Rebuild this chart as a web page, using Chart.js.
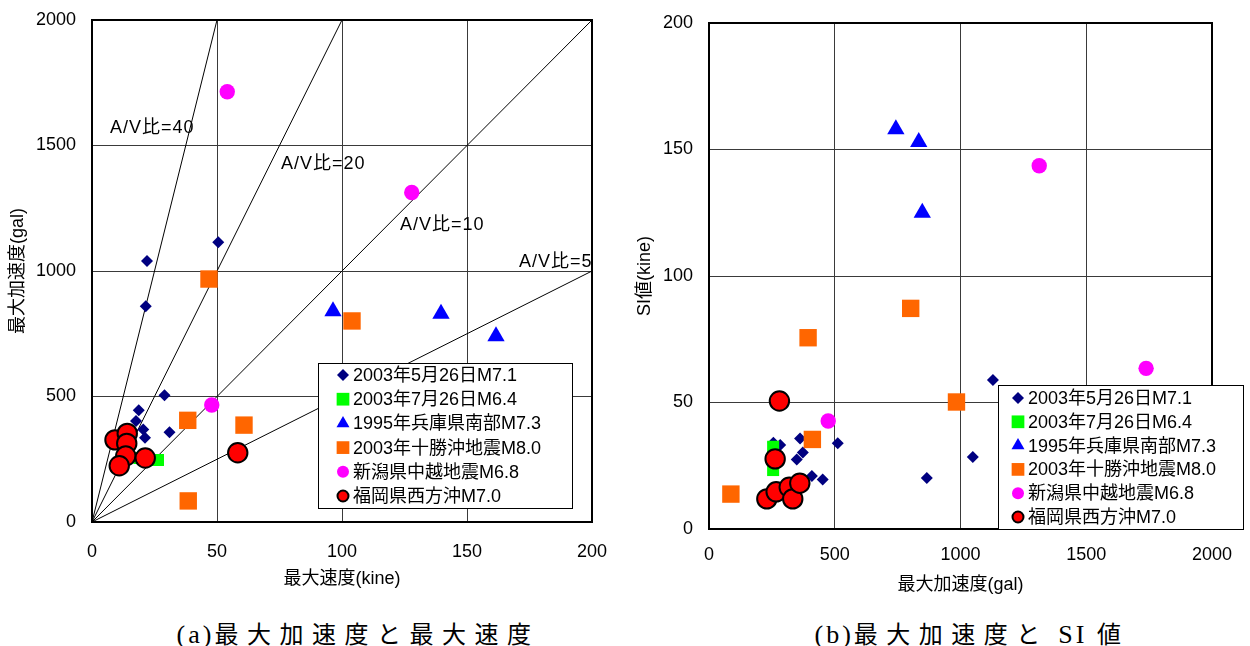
<!DOCTYPE html>
<html>
<head>
<meta charset="utf-8">
<script src="https://cdn.jsdelivr.net/npm/chart.js@4.4.1/dist/chart.umd.min.js"></script>
<style>
    body { margin: 0; background: #fff; width: 1250px; height: 646px; position: relative; overflow: hidden; }
    canvas { position: absolute; top: 0; }
    #chartA { left: 0; }
    #chartB { left: 625px; }
    .cap { position: absolute; top: 615px; font: 24px "Noto Sans CJK JP", sans-serif; letter-spacing: 8.5px;
           white-space: nowrap; transform: translateX(-50%); color: #000; }
    .cap .s { font-family: "Liberation Serif", "DejaVu Serif", serif; font-size: 26px; letter-spacing: 3px; }
</style>
</head>
<body>
<canvas id="chartA" width="625" height="605"></canvas>
<canvas id="chartB" width="625" height="605"></canvas>
<div class="cap" style="left:358px"><span class="s">(a)</span>最大加速度と最大速度</div>
<div class="cap" style="left:972px"><span class="s">(b)</span>最大加速度と<span class="s"> SI </span>値</div>

<script>
const seriesNames = ["2003年5月26日M7.1", "2003年7月26日M6.4", "1995年兵庫県南部M7.3",
                     "2003年十勝沖地震M8.0", "新潟県中越地震M6.8", "福岡県西方沖M7.0"];

// (a) 最大速度(kine) vs 最大加速度(gal)
const m71Pgv = [22, 21.5, 50.5, 29, 18.7, 17.6, 20.5, 21.2, 31];
const m71Pga = [1040, 860, 1115, 505, 445, 402, 369, 336, 358];
const m64Pgv = [26.4, 19];
const m64Pga = [247, 255];
const hyogoPgv = [96.4, 139.6, 161.6];
const hyogoPga = [840, 830, 740];
const tokachiPgv = [46.8, 104, 38.3, 60.8, 38.5];
const tokachiPga = [968, 801, 405, 386, 84];
const chuetsuPgv = [54.1, 127.9, 47.9];
const chuetsuPga = [1714, 1313, 466];
const fukuokaPgv = [9.2, 14.1, 13.9, 13.5, 10.9, 21.3, 58.3];
const fukuokaPga = [327, 353, 313, 263, 224, 255, 276];

// A/V比 reference lines
const avRatios = [40, 20, 10, 5];
const avLabels = ["A/V比=40", "A/V比=20", "A/V比=10", "A/V比=5"];

// (b) 最大加速度(gal) vs SI値(kine)
const m71PgaB = [1129, 1049, 866, 512, 452, 409, 373, 349, 362, 283, 256];
const m71Si = [58.9, 28.5, 20.2, 33.9, 19.6, 20.9, 30.2, 27.5, 35.8, 33.2, 34.1];
const m64PgaB = [255, 255];
const m64Si = [32.5, 23.3];
const hyogoPgaB = [743, 834, 848];
const hyogoSi = [158, 153, 125];
const tokachiPgaB = [87, 394, 411, 802, 984];
const tokachiSi = [13.8, 75.6, 35.4, 87.2, 50.2];
const chuetsuPgaB = [1738, 1313, 474];
const chuetsuSi = [63.5, 143.6, 42.7];
const fukuokaPgaB = [280, 263, 230, 267, 319, 333, 361];
const fukuokaSi = [50.6, 27.7, 11.9, 14.7, 16.5, 11.9, 18.1];

const looks = [
    { style: "rectRot", color: "#000080", r: 6, lr: 6, order: 5 },
    { style: "rect", color: "#00ff00", r: 8.5, lr: 9, order: 4 },
    { style: "triangle", color: "#0000ff", r: 10, lr: 7.5, order: 3 },
    { style: "rect", color: "#ff6600", r: 12.3, lr: 9, order: 2 },
    { style: "circle", color: "#ff00ff", r: 7.7, lr: 6, order: 1 },
    { style: "circle", color: "#ff0000", r: 9.7, lr: 5.5, order: 0, border: 2 }
];

const fontFamily = '"Liberation Sans", "Noto Sans CJK JP", sans-serif';
Chart.defaults.font.family = fontFamily;
Chart.defaults.color = "#000";

function pts(xs, ys) {
    return xs.map((x, i) => ({ x: x, y: ys[i] }));
}

function makeSeries(pairs) {
    return pairs.map((p, i) => {
        const lk = looks[i];
        return {
            label: seriesNames[i],
            data: pts(p[0], p[1]),
            pointStyle: lk.style,
            pointRadius: lk.r,
            pointHoverRadius: lk.r,
            backgroundColor: lk.color,
            borderColor: "#000",
            borderWidth: lk.border || 0,
            order: lk.order
        };
    });
}

function drawMarker(ctx, lk, x, y, r) {
    ctx.beginPath();
    if (lk.style === "rectRot") {
        ctx.moveTo(x - r, y); ctx.lineTo(x, y - r); ctx.lineTo(x + r, y); ctx.lineTo(x, y + r);
        ctx.closePath();
    } else if (lk.style === "rect") {
        const s = r * Math.SQRT1_2;
        ctx.rect(x - s, y - s, 2 * s, 2 * s);
    } else if (lk.style === "triangle") {
        const h = r * Math.sin(Math.PI / 3);
        ctx.moveTo(x, y - r); ctx.lineTo(x + h, y + r / 2); ctx.lineTo(x - h, y + r / 2);
        ctx.closePath();
    } else {
        ctx.arc(x, y, r, 0, Math.PI * 2);
    }
    ctx.fillStyle = lk.color;
    ctx.fill();
    if (lk.border) {
        ctx.lineWidth = lk.border;
        ctx.strokeStyle = "#000";
        ctx.stroke();
    }
}

// frame, legend box and A/V labels
const framePlugin = {
    id: "frame",
    afterDatasetsDraw(chart, args, opts) {
        const ctx = chart.ctx;
        const a = chart.chartArea;
        ctx.save();

        // ratio labels
        if (opts.labels) {
            ctx.font = "18px " + fontFamily;
            ctx.fillStyle = "#000";
            ctx.textAlign = "left";
            ctx.textBaseline = "middle";
            if ("letterSpacing" in ctx) ctx.letterSpacing = "1px";
            opts.labels.forEach(l => {
                ctx.fillText(l.t, chart.scales.x.getPixelForValue(l.x), chart.scales.y.getPixelForValue(l.y));
            });
            if ("letterSpacing" in ctx) ctx.letterSpacing = "0px";
        }

        // plot border
        ctx.lineWidth = 2;
        ctx.strokeStyle = "#000";
        ctx.strokeRect(a.left, a.top, a.right - a.left, a.bottom - a.top);

        // legend
        const lg = opts.legend;
        ctx.fillStyle = "#fff";
        ctx.fillRect(lg.x, lg.y, lg.w, lg.h);
        ctx.lineWidth = 1;
        ctx.strokeStyle = "#000";
        ctx.strokeRect(lg.x + 0.5, lg.y + 0.5, lg.w, lg.h);
        ctx.font = "18px " + fontFamily;
        ctx.textAlign = "left";
        ctx.textBaseline = "middle";
        seriesNames.forEach((name, i) => {
            const y = lg.y + lg.row0 + i * lg.gap;
            drawMarker(ctx, looks[i], lg.x + lg.mx, y, looks[i].lr);
            ctx.fillStyle = "#000";
            ctx.fillText(name, lg.x + lg.tx, y + 1);
        });
        ctx.restore();
    }
};

// tick gap is made with an invisible tick mark so it does not push the plot top down
function scaleOpts(min, max, step, title, gap, extra) {
    return Object.assign({
        type: "linear",
        min: min,
        max: max,
        ticks: { stepSize: step, font: { size: 18 }, color: "#000", padding: 2, callback: v => String(v) },
        grid: { color: "#3a3a3a", lineWidth: 1, drawTicks: true, tickLength: gap, tickColor: "rgba(0,0,0,0)" },
        border: { display: false },
        title: { display: true, text: title, font: { size: 18 }, color: "#000" }
    }, extra);
}

// chart (a)
const ratioLines = avRatios.map(r => {
    const xEnd = Math.min(200, 2000 / r);
    return {
        type: "scatter",
        data: [{ x: 0, y: 0 }, { x: xEnd, y: r * xEnd }],
        showLine: true,
        borderColor: "#000",
        borderWidth: 1,
        pointRadius: 0,
        order: 10
    };
});

const xa = scaleOpts(0, 200, 50, "最大速度(kine)", 17, { afterFit: s => { s.height = 83; } });
xa.title.padding = { top: 0, bottom: 15 };
const ya = scaleOpts(0, 2000, 500, "最大加速度(gal)", 14, { afterFit: s => { s.width = 92; } });
ya.title.padding = { top: 7, bottom: 0 };

new Chart(document.getElementById("chartA"), {
    type: "scatter",
    data: {
        datasets: makeSeries([
            [m71Pgv, m71Pga], [m64Pgv, m64Pga], [hyogoPgv, hyogoPga],
            [tokachiPgv, tokachiPga], [chuetsuPgv, chuetsuPga], [fukuokaPgv, fukuokaPga]
        ]).concat(ratioLines)
    },
    options: {
        responsive: false,
        animation: false,
        layout: { padding: { left: 0, top: 20, right: 33, bottom: 0 } },
        scales: { x: xa, y: ya },
        plugins: {
            legend: { display: false },
            tooltip: { enabled: false },
            frame: {
                legend: { x: 318, y: 363, w: 254, h: 145, row0: 12, gap: 24.2, mx: 25, tx: 35 },
                labels: [
                    { t: avLabels[0], x: 7.2, y: 1570 },
                    { t: avLabels[1], x: 75.6, y: 1426 },
                    { t: avLabels[2], x: 123.2, y: 1183 },
                    { t: avLabels[3], x: 170.8, y: 1036 }
                ]
            }
        }
    },
    plugins: [framePlugin]
});

// chart (b)
const xb = scaleOpts(0, 2000, 500, "最大加速度(gal)", 13, { afterFit: s => { s.height = 76; } });
xb.title.padding = { top: 0, bottom: 9 };
const yb = scaleOpts(0, 200, 50, "SI値(kine)", 14, { afterFit: s => { s.width = 84; } });
yb.title.padding = { top: 9, bottom: 0 };

new Chart(document.getElementById("chartB"), {
    type: "scatter",
    data: {
        datasets: makeSeries([
            [m71PgaB, m71Si], [m64PgaB, m64Si], [hyogoPgaB, hyogoSi],
            [tokachiPgaB, tokachiSi], [chuetsuPgaB, chuetsuSi], [fukuokaPgaB, fukuokaSi]
        ])
    },
    options: {
        responsive: false,
        animation: false,
        layout: { padding: { left: 0, top: 23, right: 38, bottom: 0 } },
        scales: { x: xb, y: yb },
        plugins: {
            legend: { display: false },
            tooltip: { enabled: false },
            frame: {
                legend: { x: 373, y: 385, w: 245, h: 144, row0: 13, gap: 23.8, mx: 20, tx: 30 }
            }
        }
    },
    plugins: [framePlugin]
});
</script>
</body>
</html>
